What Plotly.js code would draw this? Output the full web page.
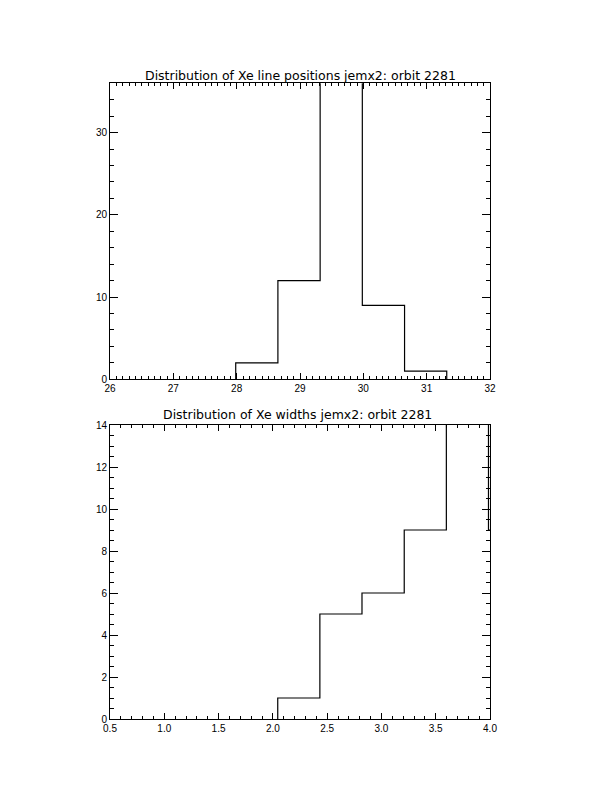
<!DOCTYPE html>
<html>
<head>
<meta charset="utf-8">
<script src="https://cdn.plot.ly/plotly-3.0.1.min.js"></script>
<style>html,body{margin:0;padding:0;background:#fff;}</style>
</head>
<body>
<div id="chart" style="width:612px;height:792px;"></div>
<script>
// Top panel: Xe line positions (bin edges and counts; the middle bin is clipped above 36)
var posEdges = [27.985, 28.651, 29.318, 29.984, 30.651, 31.317];
var posCounts = [2, 12, 41, 9, 1];

// Bottom panel: Xe widths (last bin clipped above 14, then continues past the axis)
var widthEdges = [2.045, 2.433, 2.821, 3.210, 3.598, 3.986, 4.374];
var widthCounts = [1, 5, 6, 9, 16, 9];

var topTitle = "Distribution of Xe line positions jemx2: orbit 2281";
var bottomTitle = "Distribution of Xe widths jemx2: orbit 2281";

function stepXY(edges, counts) {
  var x = [edges[0]], y = [0];
  for (var i = 0; i < counts.length; i++) { x.push(edges[i]); y.push(counts[i]); }
  x.push(edges[counts.length]); y.push(0);
  return {x: x, y: y};
}

var s1 = stepXY(posEdges, posCounts);
var s2 = stepXY(widthEdges, widthCounts);

var FONT = "Liberation Sans, Arial, sans-serif";
var TFONT = "DejaVu Sans, sans-serif";

var traces = [
  {x: s1.x, y: s1.y, type: 'scatter', mode: 'lines', line: {shape: 'hv', color: '#000', width: 1.2},
   xaxis: 'x', yaxis: 'y', hoverinfo: 'skip'},
  {x: s2.x, y: s2.y, type: 'scatter', mode: 'lines', line: {shape: 'hv', color: '#000', width: 1.2},
   xaxis: 'x2', yaxis: 'y2', hoverinfo: 'skip'}
];

function ax(extra) {
  var base = {
    showline: true, linecolor: '#000', linewidth: 1, mirror: 'ticks',
    ticks: 'inside', tickcolor: '#000', tickwidth: 1,
    showgrid: false, zeroline: false, fixedrange: true,
    tickfont: {family: FONT, size: 10, color: '#000'}
  };
  for (var k in extra) base[k] = extra[k];
  return base;
}

var layout = {
  width: 612, height: 792, autosize: false,
  margin: {l: 0, r: 0, t: 0, b: 0},
  paper_bgcolor: '#fff', plot_bgcolor: '#fff',
  showlegend: false,
  xaxis: ax({domain: [110/612, 490/612], range: [26, 32], anchor: 'y',
    tick0: 26, dtick: 1, ticklen: 6,
    minor: {dtick: 0.1, ticklen: 3, ticks: 'inside', tickcolor: '#000', tickwidth: 1, showgrid: false}}),
  yaxis: ax({domain: [1 - 379.3/792, 1 - 83.3/792], range: [0, 36], anchor: 'x',
    tick0: 0, dtick: 10, ticklen: 8,
    minor: {dtick: 2, ticklen: 4, ticks: 'inside', tickcolor: '#000', tickwidth: 1, showgrid: false}}),
  xaxis2: ax({domain: [110/612, 490/612], range: [0.5, 4.0], anchor: 'y2',
    tick0: 0.5, dtick: 0.5, ticklen: 6, tickformat: '.1f',
    minor: {dtick: 0.1, ticklen: 3, ticks: 'inside', tickcolor: '#000', tickwidth: 1, showgrid: false}}),
  yaxis2: ax({domain: [1 - 719/792, 1 - 425/792], range: [0, 14], anchor: 'x2',
    tick0: 0, dtick: 2, ticklen: 8,
    minor: {dtick: 0.5, ticklen: 4, ticks: 'inside', tickcolor: '#000', tickwidth: 1, showgrid: false}}),
  annotations: [
    {text: topTitle, xref: 'paper', yref: 'paper', x: 300/612, y: 1 - 76/792,
     xanchor: 'center', yanchor: 'middle', showarrow: false,
     font: {family: TFONT, size: 12.5, color: '#000'}},
    {text: bottomTitle, xref: 'paper', yref: 'paper', x: 297/612, y: 1 - 414/792,
     xanchor: 'center', yanchor: 'middle', showarrow: false,
     font: {family: TFONT, size: 12.5, color: '#000'}}
  ]
};

Plotly.newPlot('chart', traces, layout, {staticPlot: true, displayModeBar: false});
</script>
</body>
</html>
